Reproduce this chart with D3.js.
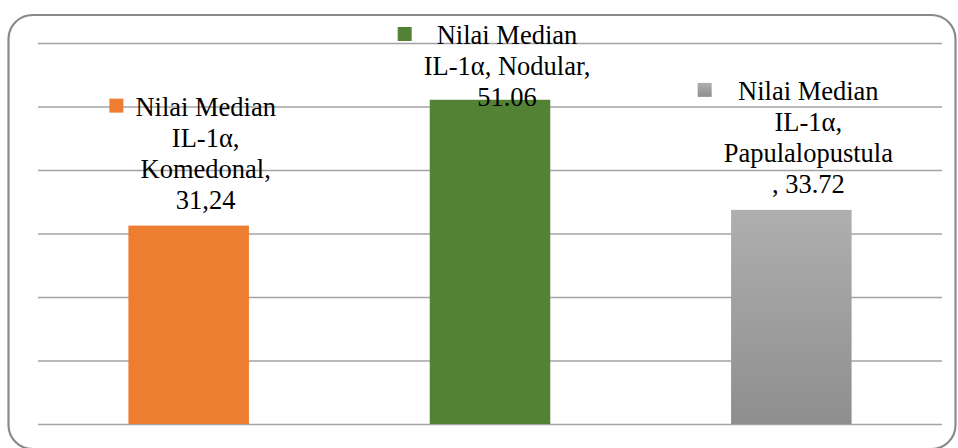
<!DOCTYPE html>
<html>
<head>
<meta charset="utf-8">
<script src="https://cdn.jsdelivr.net/npm/d3@7"></script>
<style>
  body { margin: 0; background: #fff; }
  svg { display: block; }
</style>
</head>
<body>
<div id="chart"></div>
<script>
// chart data
const categories = ["Komedonal", "Nodular", "Papulalopustula"];
const values = [31.24, 51.06, 33.72];
const labelLines = [
    ["Nilai Median", "IL-1\u03b1,", "Komedonal,", "31,24"],
    ["Nilai Median", "IL-1\u03b1, Nodular,", "51.06"],
    ["Nilai Median", "IL-1\u03b1,", "Papulalopustula", ", 33.72"]
];
const yTicks = [0, 10, 20, 30, 40, 50, 60];
const colors = ["#ED7D31", "#548235", "url(#grayGrad)"];

const width = 958, height = 448;
const margin = {top: 43, right: 16, bottom: 24, left: 38};

const svg = d3.select("#chart").append("svg")
    .attr("width", width)
    .attr("height", height);

// gradient for the third bar
const grad = svg.append("defs").append("linearGradient")
    .attr("id", "grayGrad")
    .attr("x1", 0).attr("y1", 0).attr("x2", 0).attr("y2", 1);
grad.append("stop").attr("offset", "0%").attr("stop-color", "#afafaf");
grad.append("stop").attr("offset", "100%").attr("stop-color", "#8e8e8e");

// rounded frame
svg.append("rect")
    .attr("x", 8.5).attr("y", 15)
    .attr("width", 947).attr("height", 434)
    .attr("rx", 24).attr("ry", 24)
    .attr("fill", "none")
    .attr("stroke", "#8a8a8a")
    .attr("stroke-width", 2.2);

const x = d3.scaleBand()
    .domain(categories)
    .range([margin.left, width - margin.right])
    .paddingInner(0.6)
    .paddingOuter(0.3);

const y = d3.scaleLinear()
    .domain([0, 60])
    .range([height - margin.bottom, margin.top]);

// gridlines
svg.append("g")
    .attr("transform", `translate(${margin.left},0)`)
    .call(d3.axisLeft(y).tickValues(yTicks)
        .tickSize(-(width - margin.left - margin.right))
        .tickFormat(""))
    .call(g => g.select(".domain").remove())
    .call(g => g.selectAll(".tick line")
        .attr("stroke", "#a3a3a3")
        .attr("stroke-width", 1.4));

// bars
svg.append("g").selectAll("rect")
    .data(values)
    .join("rect")
    .attr("x", (d, i) => x(categories[i]))
    .attr("y", d => y(d))
    .attr("width", x.bandwidth())
    .attr("height", d => y(0) - y(d))
    .attr("fill", (d, i) => colors[i]);

// data labels with legend key
const fontSize = 26.5, lineH = 31, gap = 17, minBaseline = 44;
const labels = svg.append("g")
    .attr("font-family", "'Liberation Serif', 'Times New Roman', serif")
    .attr("font-size", fontSize)
    .attr("fill", "#000");

values.forEach((v, i) => {
    const lines = labelLines[i];
    const cx = x(categories[i]) + x.bandwidth() / 2 + 17;
    let first = y(v) - gap - (lines.length - 1) * lineH;
    first = Math.max(first, minBaseline);

    const g = labels.append("g");
    const t = g.append("text").attr("text-anchor", "middle");
    lines.forEach((s, j) => {
        t.append("tspan")
            .attr("x", cx)
            .attr("y", first + j * lineH)
            .text(s);
    });
    let maxW = 0;
    t.selectAll("tspan").each(function() {
        maxW = Math.max(maxW, this.getComputedTextLength());
    });
    g.append("rect")
        .attr("x", cx - maxW / 2 - 26)
        .attr("y", first - 17)
        .attr("width", 14)
        .attr("height", 14)
        .attr("fill", colors[i]);
});
</script>
</body>
</html>
